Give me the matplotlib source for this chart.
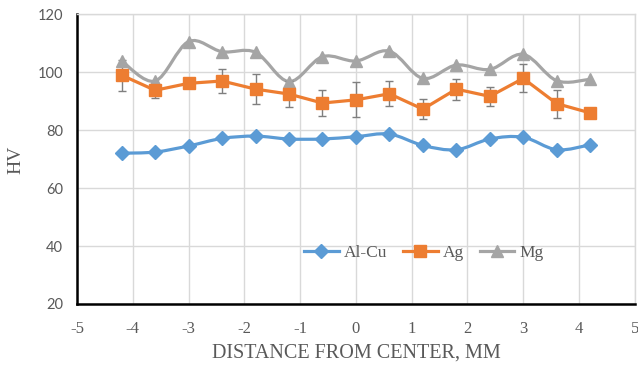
import matplotlib
matplotlib.use("Agg")
import matplotlib.pyplot as plt
from matplotlib.path import Path
from matplotlib.patches import PathPatch
from matplotlib.lines import Line2D
import numpy as np

plt.rcParams["axes.unicode_minus"] = False

x = [-4.2, -3.6, -3.0, -2.4, -1.8, -1.2, -0.6, 0.0, 0.6, 1.2, 1.8, 2.4, 3.0, 3.6, 4.2]
alcu = [72.0, 72.4, 74.5, 77.1, 77.9, 76.9, 76.9, 77.7, 78.6, 74.7, 73.2, 76.9, 77.5, 73.2, 74.9]
ag = [98.9, 93.7, 96.1, 96.9, 94.1, 92.4, 89.3, 90.4, 92.5, 87.2, 94.1, 91.6, 97.8, 89.1, 85.9]
ag_err = [5.4, 2.6, 0.0, 4.1, 5.2, 4.5, 4.4, 6.0, 4.3, 3.5, 3.6, 3.4, 4.8, 4.8, 0.0]
mg = [103.8, 96.9, 110.5, 107.0, 106.8, 96.7, 105.3, 103.8, 107.2, 97.8, 102.4, 100.9, 106.1, 97.0, 97.5]
labels = ["Al-Cu", "Ag", "Mg"]
colors = ["#5B9BD5", "#ED7D31", "#A5A5A5"]
xticks = [-5, -4, -3, -2, -1, 0, 1, 2, 3, 4, 5]
yticks = [20, 40, 60, 80, 100, 120]

fig = plt.figure(figsize=(6.38, 3.66), dpi=100)
ax = fig.add_axes([0.1207, 0.1694, 0.8743, 0.7923])
ax.set_xlim(-5, 5)
ax.set_ylim(20, 120)


def smooth_path(xs, ys):
    pts = np.column_stack([xs, ys])
    n = len(pts)
    verts = [pts[0]]
    codes = [Path.MOVETO]
    for i in range(n - 1):
        p0 = pts[i - 1] if i > 0 else pts[i]
        p1 = pts[i]
        p2 = pts[i + 1]
        p3 = pts[i + 2] if i + 2 < n else pts[i + 1]
        c1 = p1 + (p2 - p0) / 6.0
        c2 = p2 - (p3 - p1) / 6.0
        verts += [c1, c2, p2]
        codes += [Path.CURVE4] * 3
    return Path(verts, codes)


lw = 2.3
ax.add_patch(PathPatch(smooth_path(x, alcu), fill=False, edgecolor=colors[0], lw=lw, zorder=3))
ax.plot(x, alcu, ls="none", marker="D", ms=7, color=colors[0], zorder=4)
ax.add_patch(PathPatch(smooth_path(x, mg), fill=False, edgecolor=colors[2], lw=lw, zorder=3))
ax.plot(x, mg, ls="none", marker="^", ms=9, color=colors[2], zorder=4)
ax.errorbar(x, ag, yerr=ag_err, fmt="none", ecolor="#7f7f7f", elinewidth=1.0, capsize=3, capthick=1.0, zorder=3.5)
ax.plot(x, ag, lw=lw, color=colors[1], marker="s", ms=9, zorder=4)

ax.set_xticks(xticks)
ax.set_yticks(yticks)
ax.grid(True, color="#d9d9d9", lw=1.0, zorder=0)
ax.set_axisbelow(True)
for s in ["top", "right"]:
    ax.spines[s].set_color("#d9d9d9")
    ax.spines[s].set_linewidth(1.0)
for s in ["left", "bottom"]:
    ax.spines[s].set_color("black")
    ax.spines[s].set_linewidth(1.8)
ax.tick_params(length=0, colors="#595959")
ax.tick_params(axis="y", labelsize=10.5, pad=10)
ax.tick_params(axis="x", labelsize=12, pad=12)
for t in ax.get_yticklabels():
    t.set_family("Lato")
for t in ax.get_xticklabels():
    t.set_family("Liberation Serif")

ax.set_xlabel("DISTANCE FROM CENTER, MM", family="Liberation Serif", fontsize=14.5, color="#595959", labelpad=5)
fig.text(16 / 638, 1 - 160 / 366, "HV", rotation=90, ha="center", va="center",
         family="Liberation Serif", fontsize=14, color="#595959")

handles = [
    Line2D([], [], color=colors[0], lw=lw, marker="D", ms=7),
    Line2D([], [], color=colors[1], lw=lw, marker="s", ms=9),
    Line2D([], [], color=colors[2], lw=lw, marker="^", ms=9),
]
leg = ax.legend(handles, labels, loc="center", bbox_to_anchor=(0.622, 0.176), ncol=3, frameon=False,
                handlelength=2.0, columnspacing=0.9, handletextpad=0.3,
                prop={"family": "Liberation Serif", "size": 12.5})
for t in leg.get_texts():
    t.set_color("#595959")

fig.savefig("out.png", dpi=100)
